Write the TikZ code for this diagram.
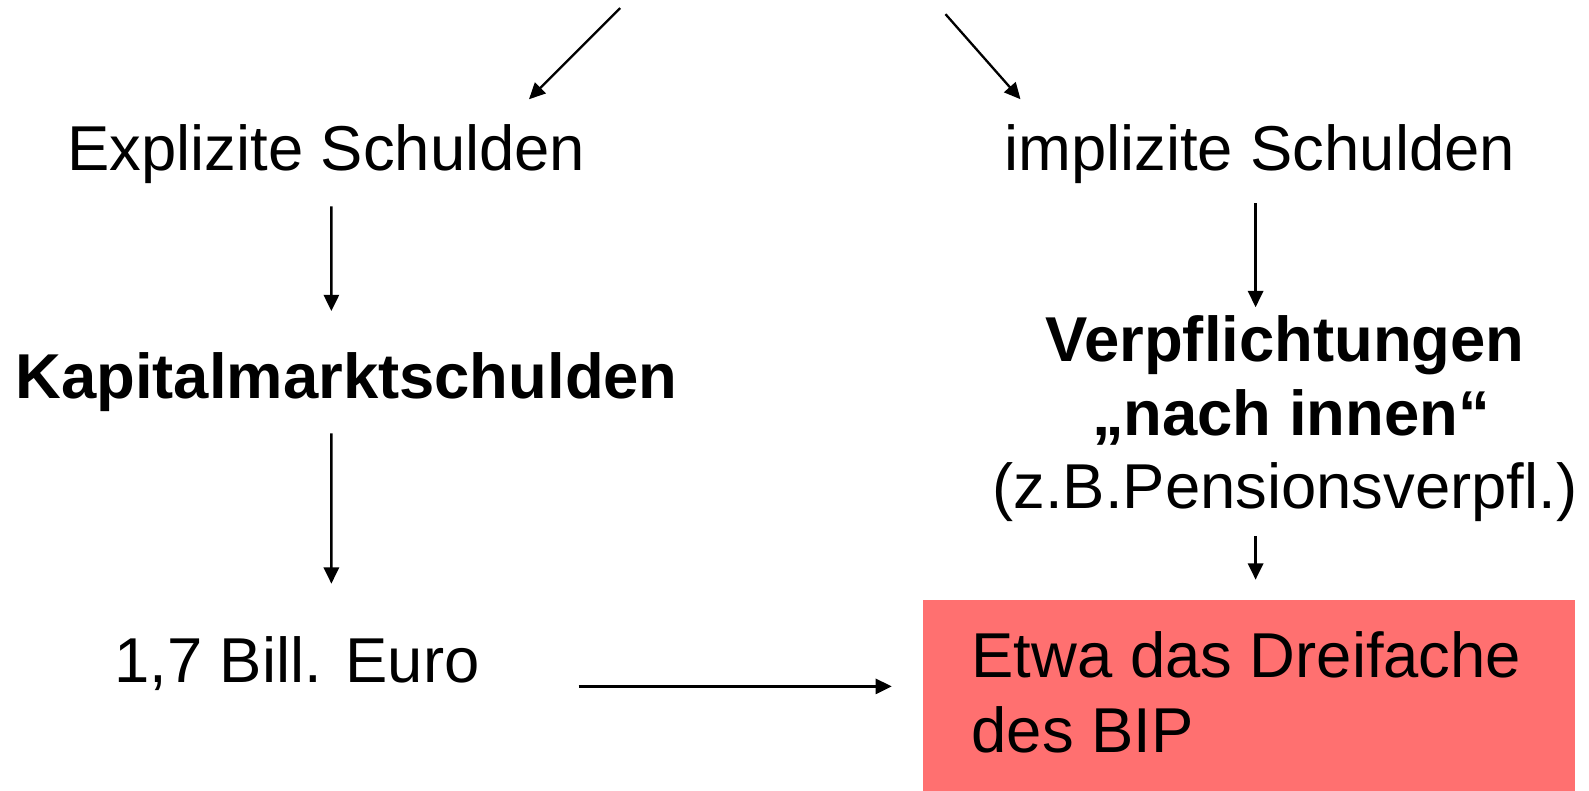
\documentclass[tikz,border=0pt]{standalone}
\usepackage{fontspec}
\setmainfont{Liberation Sans}
\usepackage{tikz}
\usetikzlibrary{arrows.meta}
\definecolor{boxred}{RGB}{255,112,112}

\begin{document}
\begin{tikzpicture}[every node/.style={font=\fontsize{17.8}{20.6}\selectfont,inner sep=0pt},
  txt/.style={anchor=base,align=center},
  hbox/.style={fill=boxred,minimum width=6.43cm,minimum height=2.2cm,anchor=north west},
  arr/.style={-{Triangle[length=1.6mm,width=1.5mm]},line width=0.65pt}]
\useasboundingbox (0,0) rectangle (15.68,7.80);
\coordinate (topl) at (6.12,7.72);
\coordinate (topr) at (9.33,7.66);
\node[txt] (expl) at (3.22,6.12) {Explizite Schulden};
\node[txt] (impl) at (12.43,6.12) {implizite Schulden};
\node[txt] (kap) at (3.42,3.87) {\textbf{Kapitalmarktschulden}};
% base of a multi-line node is its last line
\node[txt] (verpf) at (12.68,2.78) {\textbf{Verpflichtungen}\\\hspace*{0.12cm}\textbf{„nach innen“}\\(z.B.Pensionsverpfl.)};
\node[txt] (euro) at (2.93,1.07) {1,7 Bill. Euro};
\node[hbox] (dreif) at (9.10,1.89) {};
\node[anchor=base west,align=left,font=\fontsize{17.8}{21.3}\selectfont] (dreitxt) at ([shift={(0.48,-1.52)}]dreif.north west) {Etwa das Dreifache\\des BIP};
\draw[arr] (topl) -- ([shift={(2.00,0.24)}]expl.north);
\draw[arr] (topr) -- ([shift={(-2.36,0.24)}]impl.north);
\draw[arr] ([shift={(0.05,-0.22)}]expl.south) -- ([shift={(-0.15,0.40)}]kap.north);
\draw[arr] ([shift={(-0.15,-0.21)}]kap.south) -- ([shift={(0.34,0.51)}]euro.north);
\draw[arr] ([shift={(-0.04,-0.19)}]impl.south) -- ([shift={(-0.29,0.08)}]verpf.north);
\draw[arr] ([shift={(-0.29,-0.13)}]verpf.south) -- ([shift={(-0.29,0.19)}]verpf.south |- dreif.north);
\draw[arr,shorten >=3mm] ([shift={(0.97,-0.23)}]euro.east) coordinate (h0) -- (h0 -| dreif.west);
\end{tikzpicture}
\end{document}
